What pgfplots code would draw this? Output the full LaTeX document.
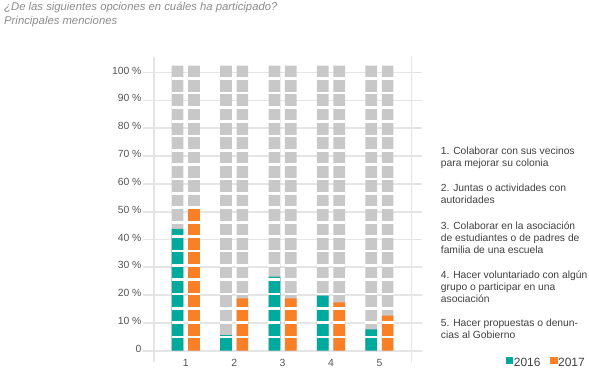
\documentclass[border=0pt]{standalone}
\usepackage{fontspec}
\setmainfont{Liberation Sans}
\usepackage{pgfplots}
\pgfplotsset{compat=1.18}
\usepackage{pgfplotstable}
\definecolor{teal16}{RGB}{0,169,157}
\definecolor{orange17}{RGB}{250,128,40}
\definecolor{barbg}{RGB}{200,200,200}
\definecolor{gridc}{RGB}{229,229,229}
\definecolor{titlec}{RGB}{140,140,140}
\definecolor{textc}{RGB}{64,64,64}
\definecolor{tickc}{RGB}{85,85,85}

\pgfplotstableread{
cat v2016 v2017 bg
1 43.8 52.0 102.5
2 5.6 18.8 102.5
3 26.6 18.8 102.5
4 19.8 17.4 102.5
5 7.7 12.6 102.5
}\data

\pgfplotstableread{
gap
4.93
10.09
15.25
20.41
25.57
30.73
35.89
41.05
46.21
51.37
56.53
61.69
66.85
72.01
77.17
82.33
87.49
92.65
97.81
}\gaps

\begin{document}
\begin{tikzpicture}[x=1pt,y=1pt]
\useasboundingbox (0,0) rectangle (589,376);
\begin{axis}[
  at={(143.3pt,14pt)}, anchor=south west,
  scale only axis, width=278.4pt, height=304.7pt,
  xmin=0.122, xmax=5.874, ymin=-4.06, ymax=105.5,
  axis line style={draw=none},
  major tick length=0pt,
  ymajorgrids,
  grid style={gridc, line width=1.7pt},
  ytick={0,10,...,100},
  yticklabels={0,10 \%,20 \%,30 \%,40 \%,50 \%,60 \%,70 \%,80 \%,90 \%,100 \%},
  xtick={1,2,3,4,5},
  xticklabels={1,2,3,4,5},
  yticklabel style={font=\fontsize{10.4}{12}\selectfont, text=tickc, inner sep=0pt, xshift=-1.6pt, yshift=2pt},
  xticklabel style={font=\fontsize{10.4}{12}\selectfont, text=tickc, anchor=center, yshift=-1pt},
  legend columns=2,
  legend style={draw=none, fill=none, inner sep=0pt, outer sep=0pt,
    at={(axis description cs:1.3028,-0.023)}, anchor=south west,
    font=\fontsize{12}{14}\selectfont, text=textc,
    /tikz/every even column/.append style={column sep=9pt},
    nodes={inner sep=0.6pt}},
]
\addplot[gridc, line width=1.7pt, forget plot] coordinates {(0.349,-4.06) (0.349,105.5)};
\addplot[gridc, line width=1.7pt, forget plot] coordinates {(5.663,-4.06) (5.663,105.5)};

\addplot[ybar, bar width=11.7pt, bar shift=-8.2pt, fill=barbg, draw=none, forget plot] table[x=cat,y=bg]{\data};
\addplot[ybar, bar width=11.7pt, bar shift=8.2pt, fill=barbg, draw=none, forget plot] table[x=cat,y=bg]{\data};

\addplot[ybar, bar width=11.7pt, bar shift=-8.2pt, fill=teal16, draw=none,
  legend image code/.code={\fill[teal16] (0pt,-0.3pt) rectangle (7.3pt,6.7pt);}] table[x=cat,y=v2016]{\data};
\addlegendentry{2016}
\addplot[ybar, bar width=11.7pt, bar shift=8.2pt, fill=orange17, draw=none,
  legend image code/.code={\fill[orange17] (0pt,-0.3pt) rectangle (7.3pt,6.7pt);}] table[x=cat,y=v2017]{\data};
\addlegendentry{2017}

\pgfplotsinvokeforeach{1,2,3,4,5}{
  \addplot[forget plot, only marks, mark=-, mark size=6pt, mark options={draw=white, line width=2.7pt}] table[x expr={#1-0.1694}, y=gap]{\gaps};
  \addplot[forget plot, only marks, mark=-, mark size=6pt, mark options={draw=white, line width=2.7pt}] table[x expr={#1+0.1694}, y=gap]{\gaps};
}
\end{axis}

\begin{scope}[every node/.style={anchor=base west, inner sep=0pt}]
\node[font=\fontsize{11.3}{13}\selectfont\itshape, text=titlec] at (4,366) {¿De las siguientes opciones en cuáles ha participado?};
\node[font=\fontsize{11.3}{13}\selectfont\itshape, text=titlec] at (4,351.5) {Principales menciones};

\begin{scope}[every node/.append style={font=\fontsize{10.3}{12}\selectfont, text=textc}]
\node at (440.7,222) {1. Colaborar con sus vecinos};
\node at (440.7,209.8) {para mejorar su colonia};
\node at (440.7,184.5) {2. Juntas o actividades con};
\node at (440.7,172.3) {autoridades};
\node at (440.7,146.5) {3. Colaborar en la asociación};
\node at (440.7,134.3) {de estudiantes o de padres de};
\node at (440.7,122.1) {familia de una escuela};
\node at (440.7,98) {4. Hacer voluntariado con algún};
\node at (440.7,85.8) {grupo o participar en una};
\node at (440.7,73.6) {asociación};
\node at (440.7,50) {5. Hacer propuestas o denun-};
\node at (440.7,37.8) {cias al Gobierno};
\end{scope}
\end{scope}
\end{tikzpicture}
\end{document}
